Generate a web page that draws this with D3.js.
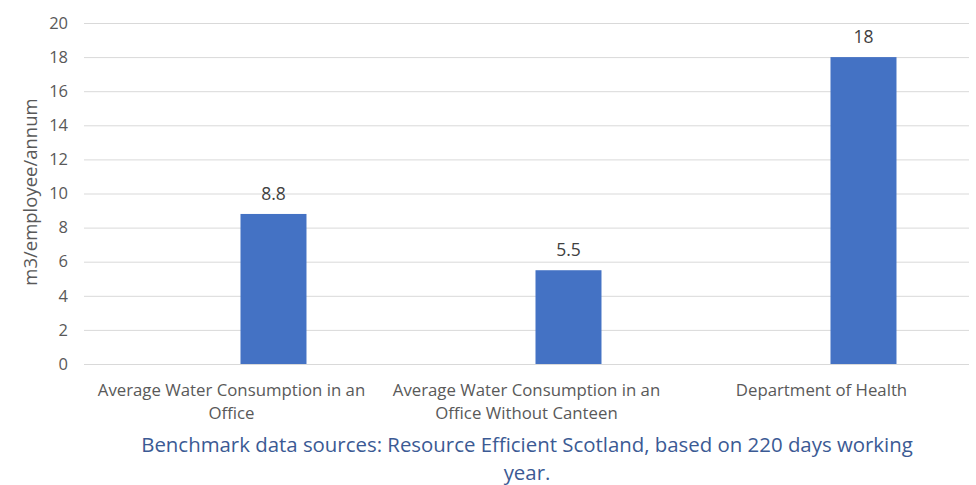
<!DOCTYPE html>
<html><head><meta charset="utf-8">
<script src="https://cdn.jsdelivr.net/npm/d3@7"></script>
<style>body{margin:0;background:#fff}svg{display:block}text{font-family:"Open Sans",sans-serif}</style>
</head><body><svg id="c" width="976" height="485"></svg>
<script>
const categories = [["Average Water Consumption in an","Office"],["Average Water Consumption in an","Office Without Canteen"],["Department of Health"]];
const values = [8.8, 5.5, 18];
const valueLabels = ["8.8","5.5","18"];
const yTicks = [0,2,4,6,8,10,12,14,16,18,20];
const seriesKeys = ["blank","value"];
const yTitle = "m3/employee/annum";
const footer = ["Benchmark data sources: Resource Efficient Scotland, based on 220 days working","year."];

const svg = d3.select("#c");
const m = {l:84, r:976-969, t:23, b:485-364};
const W = 976-m.l-m.r, H = 485-m.t-m.b;
const g = svg.append("g").attr("transform",`translate(${m.l},${m.t})`);
const idx = categories.map((d,i)=>i);
const x0 = d3.scaleBand().domain(idx).range([0,W]).paddingInner(0).paddingOuter(0);
const x1 = d3.scaleBand().domain(seriesKeys).range([x0.bandwidth()*0.3068, x0.bandwidth()*0.7542]);
const y = d3.scaleLinear().domain([0,20]).range([H,0]);

// gridlines
g.append("g").call(d3.axisLeft(y).tickValues(yTicks).tickSize(-W).tickFormat(d3.format("d")))
 .call(a=>{a.select(".domain").remove();
   a.selectAll(".tick line").attr("stroke","#d9d9d9").attr("stroke-width",1);
   a.selectAll(".tick text").attr("x",-16).attr("fill","#595959").style("font-size","16.5px");});

// bars
g.selectAll("rect.bar").data(values).join("rect").attr("class","bar")
 .attr("x",(d,i)=>x0(i)+x1("value")).attr("width",x1.bandwidth())
 .attr("y",d=>y(d)).attr("height",d=>H-y(d)).attr("fill","#4472C4");

// value labels
g.selectAll("text.vl").data(values).join("text").attr("class","vl")
 .attr("x",(d,i)=>x0(i)+x1("value")+x1.bandwidth()/2).attr("y",d=>y(d)-14)
 .attr("text-anchor","middle").attr("fill","#404040").style("font-size","17.5px")
 .text((d,i)=>valueLabels[i]);

// category labels
const xa = g.append("g").attr("transform",`translate(0,${H})`);
categories.forEach((lines,i)=>{
  const t = xa.append("text").attr("x",x0(i)+x0.bandwidth()/2).attr("y",32)
    .attr("text-anchor","middle").attr("fill","#595959").style("font-size","16.8px");
  lines.forEach((ln,j)=>t.append("tspan").attr("x",x0(i)+x0.bandwidth()/2).attr("dy",j?23:0).text(ln));
});

// y title
svg.append("text").attr("transform","translate(37,192) rotate(-90)").attr("text-anchor","middle")
 .attr("fill","#595959").style("font-size","18.5px").text(yTitle);

// footer
footer.forEach((f,j)=>svg.append("text").attr("x",527).attr("y",452+j*28).attr("text-anchor","middle")
 .attr("fill","#3b5a94").style("font-size","20.4px").text(f));
</script></body></html>
